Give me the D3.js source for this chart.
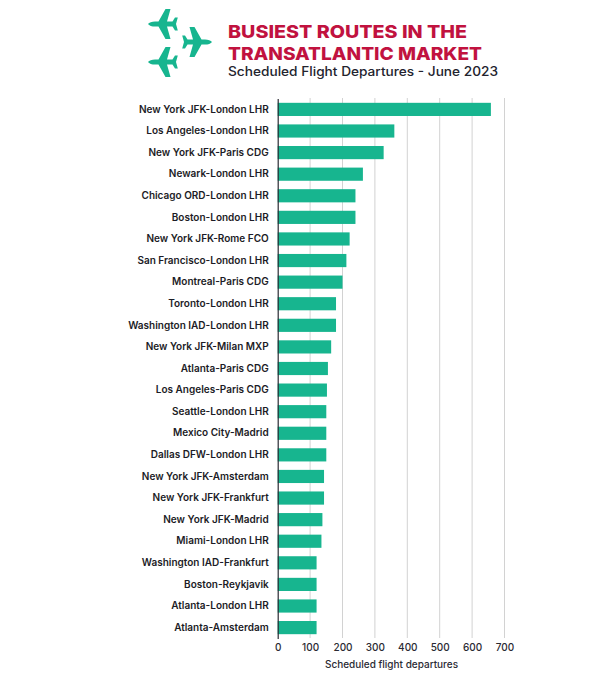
<!DOCTYPE html>
<html>
<head>
	<title>Busiest routes</title>
	<script src="https://d3js.org/d3.v7.min.js" charset="utf-8"></script>
	<style>
		html, body { margin: 0; padding: 0; background: #fff; }
		svg { display: block; }
		text { font-family: Inter, "Open Sans", sans-serif; }
	</style>
</head>
<body>
<script type="text/javascript">
	var routes = ["New York JFK-London LHR", "Los Angeles-London LHR", "New York JFK-Paris CDG",
		"Newark-London LHR", "Chicago ORD-London LHR", "Boston-London LHR", "New York JFK-Rome FCO",
		"San Francisco-London LHR", "Montreal-Paris CDG", "Toronto-London LHR", "Washington IAD-London LHR",
		"New York JFK-Milan MXP", "Atlanta-Paris CDG", "Los Angeles-Paris CDG", "Seattle-London LHR",
		"Mexico City-Madrid", "Dallas DFW-London LHR", "New York JFK-Amsterdam", "New York JFK-Frankfurt",
		"New York JFK-Madrid", "Miami-London LHR", "Washington IAD-Frankfurt", "Boston-Reykjavik",
		"Atlanta-London LHR", "Atlanta-Amsterdam"];
	var departures = [658, 360, 327, 263, 240, 240, 222, 212, 200, 180, 180, 165, 155, 152, 150,
		150, 150, 143, 143, 138, 135, 120, 120, 120, 120];
	var xTicks = [0, 100, 200, 300, 400, 500, 600, 700];

	var titleLines = ["BUSIEST ROUTES IN THE", "TRANSATLANTIC MARKET"];
	var subtitle = "Scheduled Flight Departures - June 2023";
	var xLabel = "Scheduled flight departures";

	var svg = d3.select("body")
		.append("svg")
		.attr("width", 600)
		.attr("height", 680);

	var green = "#17b58f";

	// plane pointing right, centred on 0,0
	var plane = "M15,0 C14,-1.6 11,-2.6 8,-2.6 L4.5,-2.6 L-2.5,-15 L-7.5,-15 L-4,-2.6 L-9.5,-2.6 L-12,-6.5 L-14.8,-6.5 L-13,0 " +
		"L-14.8,6.5 L-12,6.5 L-9.5,2.6 L-4,2.6 L-7.5,15 L-2.5,15 L4.5,2.6 L8,2.6 C11,2.6 14,1.6 15,0 Z";
	var planes = [[163, 24, 180], [197, 42, 0], [163, 62, 180]];

	svg.selectAll("path.plane")
		.data(planes)
		.enter().append("path")
		.attr("class", "plane")
		.attr("d", plane)
		.attr("fill", green)
		.attr("transform", function(d) { return "translate(" + d[0] + "," + d[1] + ") rotate(" + d[2] + ")"; });

	svg.selectAll("text.title")
		.data(titleLines)
		.enter().append("text")
		.attr("class", "title")
		.attr("x", 228)
		.attr("y", function(d, i) { return 37.5 + i * 22; })
		.attr("textLength", function(d, i) { return i == 0 ? 239 : 254; })
		.attr("lengthAdjust", "spacingAndGlyphs")
		.attr("fill", "#c1123f")
		.attr("font-size", 17.5)
		.attr("font-weight", 800)
		.text(function(d) { return d; });

	svg.append("text")
		.attr("x", 228)
		.attr("y", 75.5)
		.attr("textLength", 270)
		.attr("lengthAdjust", "spacingAndGlyphs")
		.attr("fill", "#23232e")
		.attr("font-size", 12.5)
		.attr("font-weight", 500)
		.text(subtitle);

	var x = d3.scaleLinear().domain([0, 700]).range([277.7, 504.5]);
	var y = d3.scaleBand().domain(routes).range([98.5, 638.5]).paddingInner(0.39).paddingOuter(0.2);

	// gridlines
	svg.selectAll("line.grid")
		.data(xTicks.slice(1))
		.enter().append("line")
		.attr("class", "grid")
		.attr("x1", function(d) { return x(d); })
		.attr("x2", function(d) { return x(d); })
		.attr("y1", 98)
		.attr("y2", 638)
		.attr("stroke", "#d2d2d2")
		.attr("stroke-width", 1);

	svg.selectAll("rect.bar")
		.data(departures)
		.enter().append("rect")
		.attr("class", "bar")
		.attr("x", x(0))
		.attr("y", function(d, i) { return y(routes[i]); })
		.attr("width", function(d) { return x(d) - x(0); })
		.attr("height", y.bandwidth())
		.attr("fill", green);

	var yAxis = d3.axisLeft(y).tickSize(0).tickPadding(9);
	var gy = svg.append("g")
		.attr("transform", "translate(" + x(0) + ",0)")
		.call(yAxis);
	gy.select(".domain").attr("stroke", "#2a2a33").attr("stroke-width", 1.2);
	gy.selectAll("text")
		.attr("fill", "#1c1c26")
		.attr("font-size", 10)
		.attr("font-weight", 600);

	var xAxis = d3.axisBottom(x).tickValues(xTicks).tickSize(0).tickPadding(6);
	var gx = svg.append("g")
		.attr("transform", "translate(0,638)")
		.call(xAxis);
	gx.select(".domain").remove();
	gx.selectAll("text")
		.attr("fill", "#2a2a33")
		.attr("font-size", 10)
		.attr("font-weight", 500);

	svg.append("text")
		.attr("x", 391.5)
		.attr("y", 668)
		.attr("text-anchor", "middle")
		.attr("fill", "#2a2a33")
		.attr("font-size", 10)
		.attr("font-weight", 500)
		.text(xLabel);
</script>
</body>
</html>
